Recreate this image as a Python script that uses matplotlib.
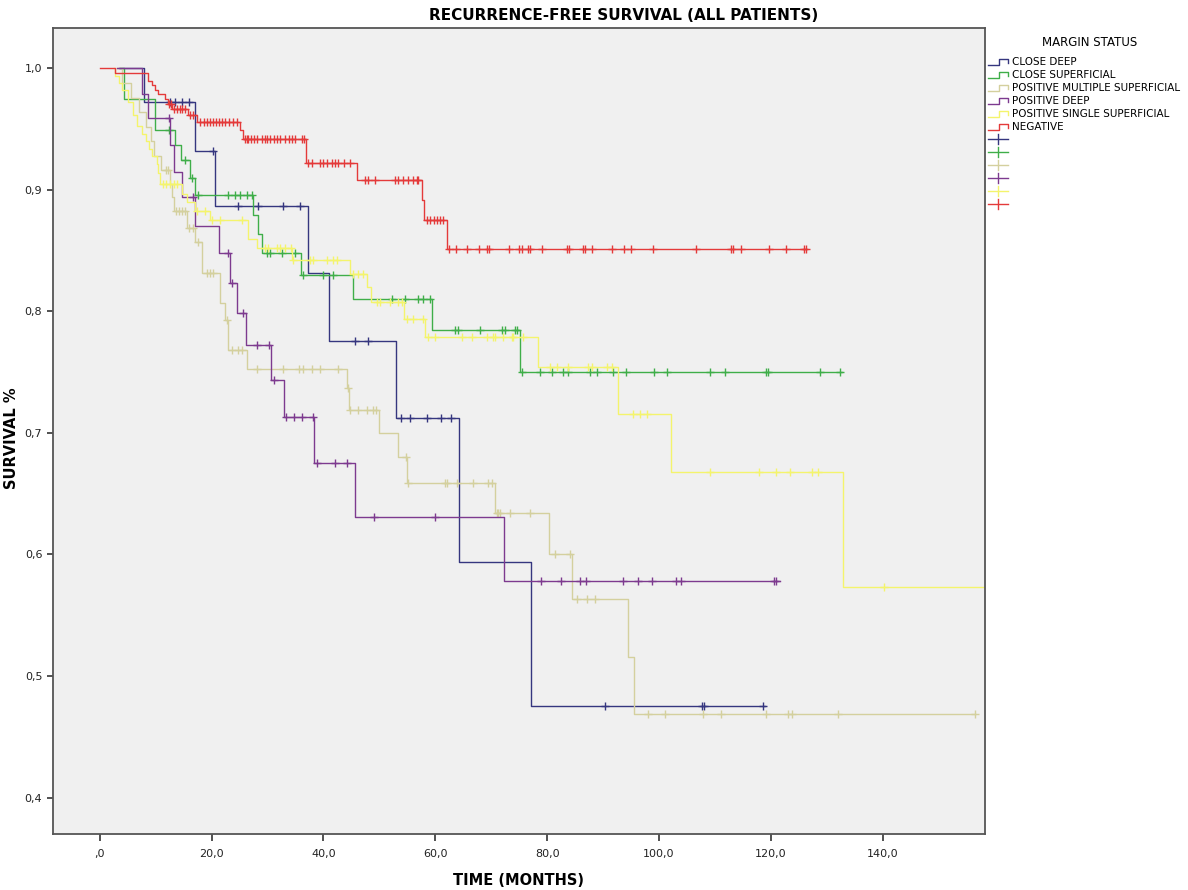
import numpy as np
import matplotlib
matplotlib.use('Agg')
import matplotlib.pyplot as plt
from matplotlib.lines import Line2D

# values: time in months, survival as a fraction
labels = ["CLOSE DEEP", "CLOSE SUPERFICIAL", "POSITIVE MULTIPLE SUPERFICIAL",
          "POSITIVE DEEP", "POSITIVE SINGLE SUPERFICIAL", "NEGATIVE"]
colors = ["#35367f", "#3fae49", "#d4d09e", "#7d3a8f", "#f4f46c", "#e43a3a"]

# CLOSE DEEP
cd_start, cd_end = 3.4, 118.9
cd_t = [7.9, 17.1, 20.6, 37.3, 41.0, 53.0, 64.3, 77.1]
cd_s = [0.972, 0.932, 0.887, 0.832, 0.776, 0.712, 0.594, 0.475]
cd_cens = [12.6, 13.5, 14.8, 16.0, 20.3, 24.8, 28.3, 32.8, 35.8, 45.7, 48.0,
           53.9, 55.5, 58.5, 61.0, 62.8, 90.3, 107.7, 108.0, 118.6]

# CLOSE SUPERFICIAL
cs_start, cs_end = 3.7, 132.7
cs_t = [4.3, 9.9, 13.5, 14.5, 16.2, 17.1, 27.4, 28.3, 29.0, 36.0, 45.3, 59.4, 75.2]
cs_s = [0.975, 0.949, 0.937, 0.925, 0.910, 0.896, 0.879, 0.864, 0.848, 0.830,
        0.810, 0.785, 0.750]
cs_cens = [12.4, 15.2, 16.5, 17.6, 23.0, 24.2, 25.1, 26.4, 27.2, 29.9, 30.5, 32.6,
           34.9, 36.4, 39.9, 41.7, 52.3, 54.6, 56.9, 57.8, 59.1, 63.5, 64.1, 68.0,
           71.9, 72.5, 74.3, 74.6, 75.5, 78.7, 80.9, 82.8, 83.7, 87.7, 88.9, 91.8,
           94.1, 99.1, 101.4, 109.1, 111.8, 119.2, 119.5, 128.8, 132.3]

# POSITIVE MULTIPLE SUPERFICIAL
pm_start, pm_end = 3.1, 156.5
pm_t = [4.0, 5.6, 7.0, 8.3, 9.2, 9.8, 11.0, 12.6, 12.9, 13.2, 15.6, 17.1, 18.3,
        21.5, 22.4, 23.0, 26.3, 44.2, 44.6, 49.9, 53.3, 54.9, 70.7, 80.3, 84.4,
        94.5, 95.5]
pm_s = [0.988, 0.976, 0.964, 0.952, 0.940, 0.928, 0.916, 0.905, 0.894, 0.883,
        0.869, 0.857, 0.832, 0.807, 0.793, 0.768, 0.753, 0.737, 0.719, 0.700,
        0.680, 0.659, 0.634, 0.600, 0.563, 0.516, 0.469]
pm_cens = [11.9, 12.3, 13.6, 14.2, 14.8, 15.2, 16.0, 16.6, 17.6, 19.2, 19.8, 20.3,
           22.7, 23.7, 24.8, 25.5, 28.1, 32.8, 35.6, 36.4, 37.9, 39.4, 42.6, 44.4,
           44.8, 46.2, 47.8, 48.9, 49.4, 54.7, 55.2, 61.7, 62.1, 63.9, 66.8, 69.4,
           70.2, 71.0, 71.2, 71.6, 73.4, 76.9, 81.4, 84.1, 85.3, 87.1, 88.5, 98.0,
           101.1, 107.9, 111.1, 119.2, 123.1, 123.8, 132.0, 156.5]

# POSITIVE DEEP
pd_start, pd_end = 3.1, 121.6
pd_t = [7.5, 8.7, 12.6, 13.3, 14.7, 17.1, 21.4, 23.3, 24.5, 26.1, 30.6, 33.0,
        38.3, 45.7, 72.3]
pd_s = [0.979, 0.959, 0.937, 0.915, 0.894, 0.870, 0.848, 0.823, 0.799, 0.772,
        0.744, 0.713, 0.675, 0.631, 0.578]
pd_cens = [12.4, 16.7, 23.0, 23.7, 25.6, 28.1, 30.3, 31.2, 33.3, 34.8, 36.2, 38.1,
           38.9, 42.1, 44.2, 49.1, 60.0, 78.9, 82.5, 85.9, 86.9, 93.5, 96.3, 98.7,
           103.0, 103.9, 120.6, 121.0]

# POSITIVE SINGLE SUPERFICIAL
ps_start, ps_end = 2.6, 158.3
ps_t = [2.8, 3.4, 4.0, 5.1, 6.0, 6.6, 7.6, 8.3, 8.9, 9.4, 10.2, 10.5, 10.8, 14.7,
        15.6, 17.0, 19.8, 26.5, 28.2, 34.4, 44.8, 47.8, 48.5, 54.4, 58.2, 78.4,
        92.7, 102.1, 132.9]
ps_s = [0.994, 0.988, 0.982, 0.972, 0.962, 0.953, 0.946, 0.940, 0.934, 0.928,
        0.921, 0.914, 0.905, 0.897, 0.890, 0.883, 0.875, 0.860, 0.852, 0.842,
        0.831, 0.820, 0.808, 0.794, 0.779, 0.754, 0.716, 0.668, 0.573]
ps_cens = [11.3, 11.9, 12.6, 13.3, 13.9, 17.4, 18.9, 20.1, 21.5, 25.5, 29.6, 30.1,
           31.7, 32.3, 33.2, 34.2, 34.6, 37.6, 38.2, 40.7, 41.7, 42.4, 45.3, 46.2,
           47.1, 49.6, 50.1, 51.9, 53.3, 54.1, 55.0, 56.0, 57.8, 58.7, 59.9, 64.8,
           66.6, 69.3, 70.3, 70.7, 72.1, 73.7, 73.9, 75.7, 80.5, 81.8, 83.7, 87.3,
           88.0, 90.7, 91.6, 95.4, 96.6, 97.9, 109.1, 117.9, 121.0, 123.4, 127.3,
           128.5, 140.2]

# NEGATIVE
ng_start, ng_end = 0.0, 126.3
ng_t = [2.8, 8.7, 9.3, 9.9, 10.5, 11.7, 12.2, 13.0, 15.8, 17.4, 25.1, 25.6, 36.9,
        46.0, 57.6, 58.0, 62.1]
ng_s = [0.996, 0.990, 0.986, 0.982, 0.979, 0.975, 0.971, 0.967, 0.962, 0.956,
        0.949, 0.942, 0.922, 0.908, 0.892, 0.875, 0.851]
ng_cens = [12.4, 12.7, 13.3, 13.8, 14.3, 14.8, 15.3, 16.2, 16.7, 18.0, 18.7, 19.2,
           19.8, 20.3, 20.8, 21.4, 21.9, 22.4, 23.1, 23.9, 24.6, 25.9, 26.3, 26.6,
           27.1, 27.6, 28.2, 29.0, 29.6, 30.0, 30.5, 31.1, 31.7, 32.3, 33.2, 33.8,
           34.4, 34.9, 36.1, 36.5, 37.3, 37.9, 39.4, 40.0, 40.6, 41.5, 42.1, 42.7,
           43.6, 44.8, 47.5, 48.0, 49.2, 52.8, 53.4, 54.3, 55.2, 56.1, 56.7, 57.0,
           58.5, 59.1, 59.7, 60.3, 60.9, 61.4, 62.5, 63.8, 65.7, 67.9, 69.2, 69.7,
           73.2, 74.9, 75.5, 76.6, 76.9, 79.1, 83.5, 83.9, 86.4, 86.8, 88.1, 91.6,
           93.7, 95.0, 99.0, 106.6, 112.9, 113.3, 114.7, 119.7, 122.8, 126.0, 126.3]

curves = [
    (cd_start, cd_end, cd_t, cd_s, cd_cens),
    (cs_start, cs_end, cs_t, cs_s, cs_cens),
    (pm_start, pm_end, pm_t, pm_s, pm_cens),
    (pd_start, pd_end, pd_t, pd_s, pd_cens),
    (ps_start, ps_end, ps_t, ps_s, ps_cens),
    (ng_start, ng_end, ng_t, ng_s, ng_cens),
]

W, H = 1188, 890
fig = plt.figure(figsize=(W / 100, H / 100), dpi=100)
fig.patch.set_facecolor("white")

ax = fig.add_axes([52.7 / W, 1 - 834 / H, (985 - 52.7) / W, (834 - 28.3) / H])
ax.set_facecolor("#f0f0f0")


def surv_at(times, levels, x):
    # KM step value just after time x
    idx = np.searchsorted(np.array(times), x, side="right")
    return 1.0 if idx == 0 else levels[idx - 1]


for (start, end, t, s, cens), col in zip(curves, colors):
    xs = [start] + t + [end]
    ys = [1.0] + s + [s[-1]]
    ax.step(xs, ys, where="post", color=col, lw=1.0)
    cy = [surv_at(t, s, c) for c in cens]
    ax.plot(cens, cy, ls="none", marker="+", ms=6, mew=1.0, color=col)

ax.set_xlim(-8.4, 158.3)
ax.set_ylim(0.370, 1.033)
xt = np.arange(0, 141, 20)
ax.set_xticks(xt)
ax.set_xticklabels([",0"] + [f"{v:.1f}".replace(".", ",") for v in xt[1:]])
yt = np.arange(0.4, 1.01, 0.1)
ax.set_yticks(yt)
ax.set_yticklabels([f"{v:.1f}".replace(".", ",") for v in yt])
ax.tick_params(axis="both", labelsize=8, length=4, width=1.2, color="#333333",
               labelcolor="#222222")
ax.tick_params(axis="x", length=5, pad=6)
for sp in ax.spines.values():
    sp.set_color("#555555")
    sp.set_linewidth(1.3)

ax.set_xlabel("TIME (MONTHS)", fontsize=10.5, fontweight="bold", labelpad=10)
fig.text(12 / W, 1 - 438 / H, "SURVIVAL %", rotation=90, ha="center",
         va="center", fontsize=10.5, fontweight="bold")
fig.text(624 / W, 1 - 15 / H, "RECURRENCE-FREE SURVIVAL (ALL PATIENTS)",
         ha="center", va="center", fontsize=11, fontweight="bold")

# legend drawn by hand to the right of the plot
fig.text(1090 / W, 1 - 42 / H, "MARGIN STATUS", ha="center", va="center",
         fontsize=8.5)
for i, (lab, col) in enumerate(zip(labels, colors)):
    y = 62 + 13 * i
    gx = [988, 999, 999, 1008, 1008]
    gy = [y + 3, y + 3, y - 3, y - 3, y + 1]
    fig.add_artist(Line2D([v / W for v in gx], [1 - v / H for v in gy],
                          color=col, lw=1.0, transform=fig.transFigure))
    fig.text(1012 / W, 1 - y / H, lab, ha="left", va="center", fontsize=7.5)
for i, col in enumerate(colors):
    y = 139 + 13 * i
    fig.add_artist(Line2D([988 / W, 1008 / W], [1 - y / H, 1 - y / H],
                          color=col, lw=1.0, transform=fig.transFigure))
    fig.add_artist(Line2D([998 / W, 998 / W], [1 - (y - 5) / H, 1 - (y + 5) / H],
                          color=col, lw=1.0, transform=fig.transFigure))

fig.savefig("out.png", dpi=100)
